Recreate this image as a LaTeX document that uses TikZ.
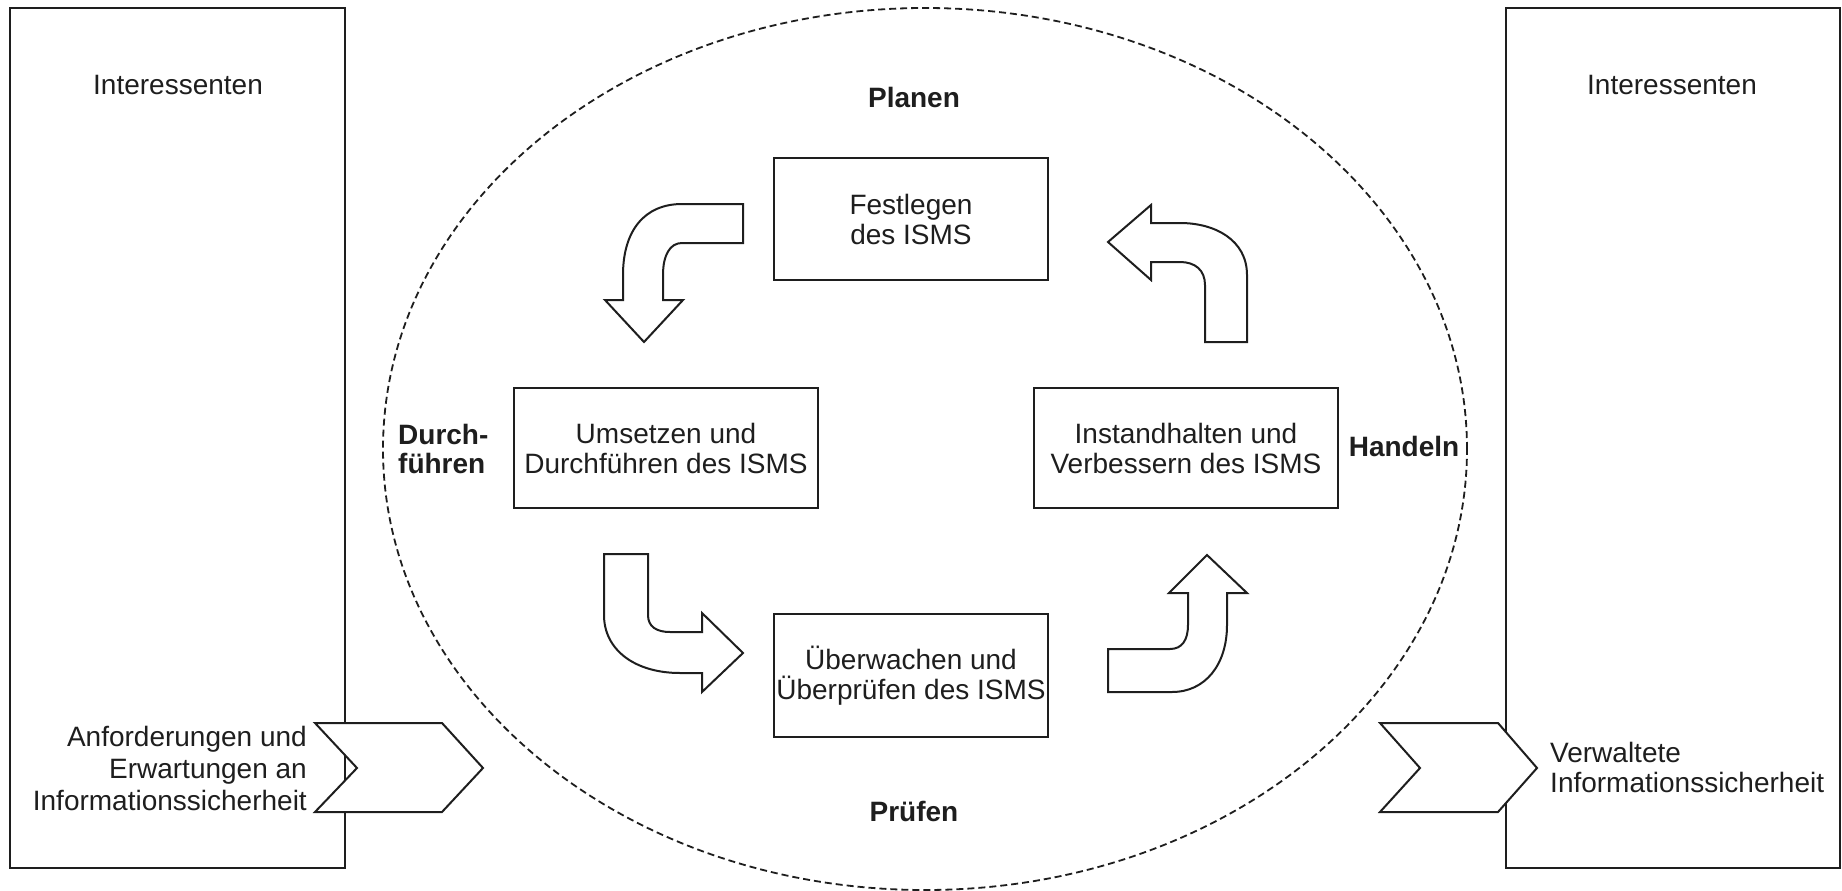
\documentclass[tikz,border=0pt]{standalone}
\usepackage{fontspec}
\setmainfont{Liberation Sans}
\definecolor{ink}{RGB}{30,30,30}
\begin{document}
\begin{tikzpicture}[x=1pt,y=-1pt,
  every node/.style={text=ink, font=\fontsize{28}{30}\selectfont},
  frame/.style={draw=ink, line width=2pt, inner sep=0pt},
  stepbox/.style={draw=ink, line width=2pt, fill=white, align=center, inner sep=0pt},
  phase/.style={font=\bfseries\fontsize{28}{29}\selectfont, align=left, inner sep=0pt},
  bent/.style={draw=ink, line width=2pt, fill=white, line join=miter},
  chev/.style={draw=ink, line width=2pt, fill=white, line join=miter}]
\useasboundingbox (0,0) rectangle (1842,891);

% stakeholder columns
\node[frame, minimum width=335pt, minimum height=860pt] (lbox) at (177.5,438) {};
\node[frame, minimum width=334pt, minimum height=860pt] (rbox) at (1673,438) {};
\node (lint) at (178,85) {Interessenten};
\node (rint) at (1672,85) {Interessenten};

% dashed ellipse
\draw[ink, line width=1.8pt, dash pattern=on 7pt off 4pt] (925,449) ellipse [x radius=542pt, y radius=441pt];

% chevrons
\draw[chev] (315,723) -- (442,723) -- (483,768) -- (442,812) -- (315,812) -- (357,768) -- cycle;
\draw[chev] (1380,723) -- (1498,723) -- (1537,768) -- (1498,812) -- (1380,812) -- (1420,768) -- cycle;
\node[align=right, anchor=east, inner sep=0pt, font=\fontsize{28}{32}\selectfont] (input) at (307,768)
  {Anforderungen und\\Erwartungen an\\Informationssicherheit};
\node[align=left, anchor=west, inner sep=0pt, font=\fontsize{28}{30}\selectfont] (output) at (1550,767)
  {Verwaltete\\Informationssicherheit};

% PDCA boxes
\node[stepbox, minimum width=274pt, minimum height=122pt] (plan) at (911,219) {Festlegen\\des ISMS};
\node[stepbox, minimum width=304pt, minimum height=120pt] (do) at (666,448) {Umsetzen und\\Durchführen des ISMS};
\node[stepbox, minimum width=304pt, minimum height=120pt] (act) at (1186,448) {Instandhalten und\\Verbessern des ISMS};
\node[stepbox, minimum width=274pt, minimum height=123pt] (check) at (911,675.5) {Überwachen und\\Überprüfen des ISMS};

% phase labels
\node[phase] (planen) at (914,97) {Planen};
\node[phase, anchor=west] (durch) at (398,449) {Durch-\\führen};
\node[phase] (handeln) at (1404,446) {Handeln};
\node[phase] (pruefen) at (914,811) {Prüfen};

% bent block arrows
\draw[bent] (743,204) -- (682,204) .. controls (645,204) and (623,230) .. (623,275)
  -- (623,300) -- (605,300) -- (644,342) -- (683,300) -- (663,300) -- (663,275)
  .. controls (663,255) and (670,243) .. (682,243) -- (743,243) -- cycle;
\draw[bent] (1205,342) -- (1247,342) -- (1247,275) .. controls (1247,240) and (1215,223) .. (1180,223)
  -- (1151,223) -- (1151,205) -- (1108,242) -- (1151,280) -- (1151,262) -- (1180,262)
  .. controls (1195,262) and (1205,270) .. (1205,285) -- cycle;
\draw[bent] (604,554) -- (648,554) -- (648,615) .. controls (648,627) and (657,632) .. (670,632)
  -- (702,632) -- (702,613) -- (743,653) -- (702,692) -- (702,673) -- (680,673)
  .. controls (635,673) and (604,650) .. (604,615) -- cycle;
\draw[bent] (1108,649) -- (1170,649) .. controls (1182,649) and (1188,640) .. (1188,625)
  -- (1188,593) -- (1169,593) -- (1207,555) -- (1247,593) -- (1227,593) -- (1227,625)
  .. controls (1227,665) and (1205,692) .. (1172,692) -- (1108,692) -- cycle;
\end{tikzpicture}
\end{document}
